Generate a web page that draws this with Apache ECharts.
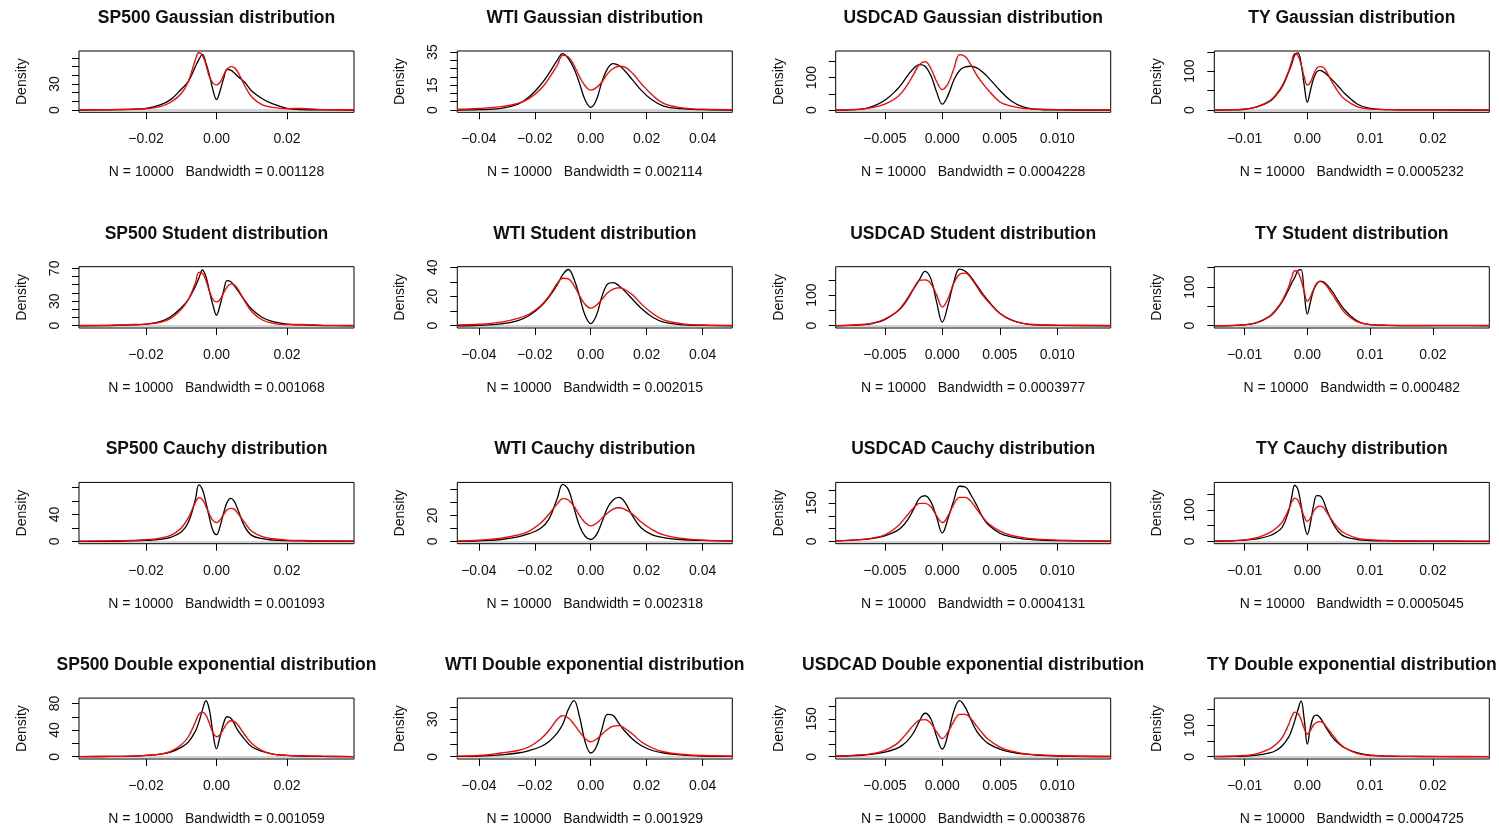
<!DOCTYPE html>
<html>
<head>
<meta charset="utf-8">
<script src="https://cdn.jsdelivr.net/npm/echarts@6/dist/echarts.min.js"></script>
<style>
html,body{margin:0;padding:0;background:#fff;}
#chart{width:1499px;height:827px;}
</style>
</head>
<body>
<div id="chart"></div>
<script>
// ---------- DATA ----------
const assets = ['SP500', 'WTI', 'USDCAD', 'TY'];
const dists = ['Gaussian', 'Student', 'Cauchy', 'Double exponential'];
const sampleSize = 10000;
const bwGaussian = ['0.001128', '0.002114', '0.0004228', '0.0005232'];
const bwStudent = ['0.001068', '0.002015', '0.0003977', '0.000482'];
const bwCauchy = ['0.001093', '0.002318', '0.0004131', '0.0005045'];
const bwDoubleExp = ['0.001059', '0.001929', '0.0003876', '0.0004725'];

// x grids (one per asset column)
const xSP500 = [-0.039,-0.030,-0.024,-0.020,-0.016,-0.013,-0.010,-0.008,-0.006,-0.005,-0.004,-0.003,-0.002,-0.001,0,0.001,0.002,0.003,0.004,0.005,0.006,0.008,0.010,0.013,0.016,0.020,0.024,0.030,0.039];
const xWTI = [-0.0477,-0.04,-0.032,-0.026,-0.022,-0.018,-0.015,-0.012,-0.010,-0.008,-0.006,-0.004,-0.002,0,0.002,0.004,0.006,0.008,0.010,0.012,0.015,0.018,0.022,0.026,0.032,0.04,0.0506];
const xUSDCAD = [-0.00927,-0.007,-0.006,-0.005,-0.004,-0.0035,-0.003,-0.0025,-0.002,-0.0015,-0.001,-0.0005,0,0.0005,0.001,0.0015,0.002,0.0025,0.003,0.0035,0.004,0.005,0.006,0.007,0.008,0.010,0.01464];
const xTY = [-0.01483,-0.012,-0.010,-0.008,-0.006,-0.005,-0.004,-0.003,-0.0025,-0.002,-0.0015,-0.001,-0.0005,0,0.0005,0.001,0.0015,0.002,0.0025,0.003,0.004,0.005,0.006,0.008,0.010,0.013,0.018,0.024,0.0290];

// x axis ranges and tick labels per column
const xMinByCol = [-0.039, -0.0477, -0.00927, -0.01483];
const xMaxByCol = [0.039, 0.0506, 0.01464, 0.0290];
const xTicksSP500 = [-0.02, 0, 0.02];
const xTicksWTI = [-0.04, -0.02, 0, 0.02, 0.04];
const xTicksUSDCAD = [-0.005, 0, 0.005, 0.01];
const xTicksTY = [-0.01, 0, 0.01, 0.02];
const xDecimals = [2, 2, 3, 2];

// densities: black = data, red = fitted
const sp500GaussBlack = [0,0.3,0.8,2,6,12,24,33,50,58,64,54,40,23,12,22,36,47,46,43,39,32,22,13,7,2,0.5,0.2,0];
const sp500GaussRed = [0.3,0.5,1,1.5,4,9,19,33,58,66,63,52,38,31,29,32,40,47,50,49,44,28,15,6,3,1.5,2,0.5,0.3];
const sp500StudBlack = [0,0.3,1,2,5,11,22,32,48,58,68,60,42,25,13,25,42,55,54,49,43,31,20,10,5,2,1,0.3,0];
const sp500StudRed = [0.3,0.6,1.5,2,4,9,20,32,52,65,64,55,42,32,29,32,40,47,51,50,45,30,17,7,3,1.5,1.5,0.5,0.3];
const sp500CauchyBlack = [0,0.3,0.8,1.5,3,6,14,28,62,84,77,58,35,16,10,22,42,58,64,60,48,22,9,4,2,1.2,0.8,0.5,0.3];
const sp500CauchyRed = [0.5,1,1.5,2.5,5,9,20,35,58,65,62,52,40,31,28,32,40,47,49,48,42,28,15,7,4,2,1.5,1,0.5];
const sp500DexpBlack = [0.3,0.5,1,2,4,7,14,22,38,52,70,84,70,35,12,30,50,60,58,50,40,26,15,8,4,2,1,0.5,0.3];
const sp500DexpRed = [0.3,0.5,1,2,4,8,18,30,52,64,67,62,50,36,30,33,42,50,54,53,48,33,20,9,4,2,1.5,0.8,0.3];

const wtiGaussBlack = [0,0.2,1,3.6,8,15,22,30,34,31,25,16,6,1.6,6,17,25,28,27,24,18,12,6,2.4,0.8,0.2,0];
const wtiGaussRed = [0.5,1,2,4,7,12.5,19,27,33,32,27,20,14.5,12,13.5,17,22,25,26.4,26,22,16,9,4,1.5,0.5,0.3];
const wtiStudBlack = [0,0.3,1.2,3.5,7,13,19.5,28,35,38.5,32,20,7,1.5,7,20,28.5,29.5,27.5,24,18,12,6,2.5,0.8,0.2,0];
const wtiStudRed = [0.5,1,2.5,5,8,13.5,20,29,32.5,32,27.5,20.5,14.5,12,14,18,22.5,25,26,25,21,15,8.5,4,1.5,0.5,0.3];
const wtiCauchyBlack = [0.2,0.5,1.5,3.5,6,10,17,33,44,40,26,12,4,1.5,5,15,26,32,34,31,19.5,10.5,5,3,1.5,0.8,0.3];
const wtiCauchyRed = [0.5,1,2.5,5,8,14,21,29,33,32,27,20,14.5,12,14,18,22,25,26,25,21,15,9,5,2.5,1,0.5];
const wtiDexpBlack = [0.3,0.5,1.5,3,5,8,12,19,26,38,45,32,12,3,8,22,34,33,27,21,14,9,5,3,1.5,0.5,0.3];
const wtiDexpRed = [0.5,1,3,5,8,14,21,30,33,31,26,20,14.5,12,14,18,22,24.5,25,23,18,12,7,4,2,1,0.5];

const cadGaussBlack = [0,3,12,30,61,82,107,128,140,135,107,56,18,46,92,122,133,135,130,117,100,61,28,10,3,0.3,0];
const cadGaussRed = [0.5,3,8,18,38,55,80,110,140,149,128,88,63,82,127,171,164,138,107,82,61,25,12,5,3,1,0.5];
const cadStudBlack = [0,3,8,20,44,62,88,120,150,178,154,78,12,68,143,185,178,159,132,105,81,41,19,8,3,1,0];
const cadStudRed = [0.5,4,9,22,45,65,92,122,148,150,138,100,61,90,140,168,172,155,128,100,78,40,18,8,4,2,1];
const cadCauchyBlack = [2,7,12,22,40,57,85,125,168,178,155,95,33,90,160,215,212,180,140,95,65,32,18,10,6,3,1];
const cadCauchyRed = [2,8,14,26,55,78,105,130,148,148,135,100,73,100,145,172,172,155,125,95,70,40,24,15,10,5,1];
const cadDexpBlack = [2,6,10,18,32,45,65,95,140,172,150,80,30,90,180,222,195,145,100,72,52,30,18,11,7,3,1];
const cadDexpRed = [2,7,13,25,50,72,98,125,145,147,132,98,72,98,140,168,168,150,120,92,68,38,22,13,8,4,1];

const tyGaussBlack = [0,0.3,2,8,22,38,60,97,118,142,147,120,64,20,51,81,98,102,99,93,77,60,42,15,4,1,0.3,0.1,0];
const tyGaussRed = [0.5,1,2.5,9,24,40,63,100,125,145,140,117,85,64,72,92,108,112,110,100,70,45,27,8,2.5,1,0.5,0.5,0.5];
const tyStudBlack = [0,0.5,2,8,24,40,62,93,110,125,142,145,85,30,62,92,108,115,114,108,88,62,40,12,3,1,0.3,0.1,0];
const tyStudRed = [0.5,1,3,9,25,42,65,100,125,142,138,118,88,63,75,95,110,114,112,104,80,55,33,10,3,1,0.6,0.8,1];
const tyCauchyBlack = [1,2,4,8,18,28,45,95,140,178,165,115,55,22,60,115,145,144,132,105,60,30,15,6,3,1.5,1,0.5,0.3];
const tyCauchyRed = [1.5,2.5,5,12,28,42,62,100,125,137,130,105,78,63,75,95,108,112,108,95,65,40,25,10,5,3,1.5,1,1];
const tyDexpBlack = [0.5,1,2,5,12,20,35,62,85,115,150,178,120,40,95,128,133,125,110,92,62,42,28,12,5,2,0.8,0.3,0.2];
const tyDexpRed = [1,2,4,10,25,40,62,102,128,142,138,118,90,72,85,102,110,112,108,96,70,45,28,10,4,2,1,0.8,0.5];

// y axis: top of range, tick values and labelled values per panel (row-major)
const yMaxRow1 = [68, 35.6, 182, 152];
const yMaxRow2 = [72, 40.4, 193, 152.5];
const yMaxRow3 = [87.7, 45.6, 230, 187];
const yMaxRow4 = [88, 47, 232, 187];
const yTicksRow1 = [[0,10,20,30,40,50,60],[0,5,10,15,20,25,30,35],[0,50,100,150],[0,50,100,150]];
const yTicksRow2 = [[0,10,20,30,40,50,60,70],[0,10,20,30,40],[0,50,100,150],[0,50,100,150]];
const yTicksRow3 = [[0,20,40,60,80],[0,10,20,30,40],[0,50,100,150,200],[0,50,100,150]];
const yTicksRow4 = [[0,20,40,60,80],[0,10,20,30,40],[0,50,100,150,200],[0,50,100,150]];
const yLabelsRow1 = [[0,30],[0,15,35],[0,100],[0,100]];
const yLabelsRow2 = [[0,30,70],[0,20,40],[0,100],[0,100]];
const yLabelsRow3 = [[0,40],[0,20],[0,150],[0,100]];
const yLabelsRow4 = [[0,40,80],[0,30],[0,150],[0,100]];

// ---------- ASSEMBLY ----------
const xGrids = [xSP500, xWTI, xUSDCAD, xTY];
const xTicks = [xTicksSP500, xTicksWTI, xTicksUSDCAD, xTicksTY];
const bandwidths = [bwGaussian, bwStudent, bwCauchy, bwDoubleExp];
const blacks = [
  [sp500GaussBlack, wtiGaussBlack, cadGaussBlack, tyGaussBlack],
  [sp500StudBlack, wtiStudBlack, cadStudBlack, tyStudBlack],
  [sp500CauchyBlack, wtiCauchyBlack, cadCauchyBlack, tyCauchyBlack],
  [sp500DexpBlack, wtiDexpBlack, cadDexpBlack, tyDexpBlack]
];
const reds = [
  [sp500GaussRed, wtiGaussRed, cadGaussRed, tyGaussRed],
  [sp500StudRed, wtiStudRed, cadStudRed, tyStudRed],
  [sp500CauchyRed, wtiCauchyRed, cadCauchyRed, tyCauchyRed],
  [sp500DexpRed, wtiDexpRed, cadDexpRed, tyDexpRed]
];
const yMaxs = [yMaxRow1, yMaxRow2, yMaxRow3, yMaxRow4];
const yTicks = [yTicksRow1, yTicksRow2, yTicksRow3, yTicksRow4];
const yLabels = [yLabelsRow1, yLabelsRow2, yLabelsRow3, yLabelsRow4];

const FONT = '"Liberation Sans", Arial, Helvetica, sans-serif';
const colLeft = [79, 457.3, 835.7, 1214.3];
const rowTop = [51, 266.7, 482.4, 698.1];
const boxW = 275, boxH = 61.3;
const titleCenterY = [17, 233, 448, 664];

const grids = [], xAxes = [], yAxes = [], series = [], titles = [];
function fmtX(dec) {
  return function (v) {
    const s = Math.abs(v).toFixed(dec);
    return (v < -1e-12 ? '\u2212' : '') + s;
  };
}
for (let r = 0; r < 4; r++) {
  for (let c = 0; c < 4; c++) {
    const idx = r * 4 + c;
    grids.push({ left: colLeft[c], top: rowTop[r], width: boxW, height: boxH,
      show: true, borderColor: '#000', borderWidth: 1, backgroundColor: 'transparent', containLabel: false });
    titles.push({ text: assets[c] + ' ' + dists[r] + ' distribution',
      left: colLeft[c] + boxW / 2, top: titleCenterY[r] - 8, textAlign: 'center', padding: 0,
      textStyle: { fontSize: 17.5, fontWeight: 'bold', color: '#111', fontFamily: FONT } });
    xAxes.push({ type: 'value', gridIndex: idx, min: xMinByCol[c], max: xMaxByCol[c],
      name: 'N = ' + sampleSize + '   Bandwidth = ' + bandwidths[r][c],
      nameLocation: 'middle', nameGap: 53,
      nameTextStyle: { fontSize: 14, color: '#111', fontFamily: FONT },
      axisLine: { show: false, onZero: false },
      splitLine: { show: false },
      axisTick: { show: true, length: 7, inside: false, customValues: xTicks[c], lineStyle: { color: '#000', width: 1 } },
      axisLabel: { show: true, customValues: xTicks[c], formatter: fmtX(xDecimals[c]), fontSize: 14, color: '#111', fontFamily: FONT, margin: 20 } });
    const ymax = yMaxs[r][c];
    yAxes.push({ type: 'value', gridIndex: idx, min: -ymax * 0.04 / 1.04, max: ymax,
      name: 'Density', nameLocation: 'middle', nameRotate: 90, nameGap: 50,
      nameTextStyle: { fontSize: 14, color: '#111', fontFamily: FONT },
      axisLine: { show: false, onZero: false },
      splitLine: { show: false },
      axisTick: { show: true, length: 7, inside: false, customValues: yTicks[r][c], lineStyle: { color: '#000', width: 1 } },
      axisLabel: { show: true, customValues: yLabels[r][c], rotate: 90, fontSize: 14, color: '#111', fontFamily: FONT, margin: 17 } });
    const xs = xGrids[c];
    series.push({ type: 'line', xAxisIndex: idx, yAxisIndex: idx, showSymbol: false, smooth: 0.4,
      data: xs.map((x, i) => [x, blacks[r][c][i]]),
      lineStyle: { color: '#000', width: 1.3 }, itemStyle: { color: '#000' }, z: 3,
      markLine: { silent: true, symbol: ['none', 'none'], label: { show: false },
        lineStyle: { color: '#c4c4c4', width: 1.5, type: 'solid' }, data: [{ yAxis: 0 }], z: 2 } });
    series.push({ type: 'line', xAxisIndex: idx, yAxisIndex: idx, showSymbol: false, smooth: 0.4,
      data: xs.map((x, i) => [x, reds[r][c][i]]),
      lineStyle: { color: '#ff0000', width: 1.3 }, itemStyle: { color: '#ff0000' }, z: 4 });
  }
}

const chart = echarts.init(document.getElementById('chart'), null, { renderer: 'canvas' });
chart.setOption({
  animation: false,
  backgroundColor: '#ffffff',
  textStyle: { fontFamily: FONT },
  title: titles,
  grid: grids,
  xAxis: xAxes,
  yAxis: yAxes,
  series: series
});
</script>
</body>
</html>
